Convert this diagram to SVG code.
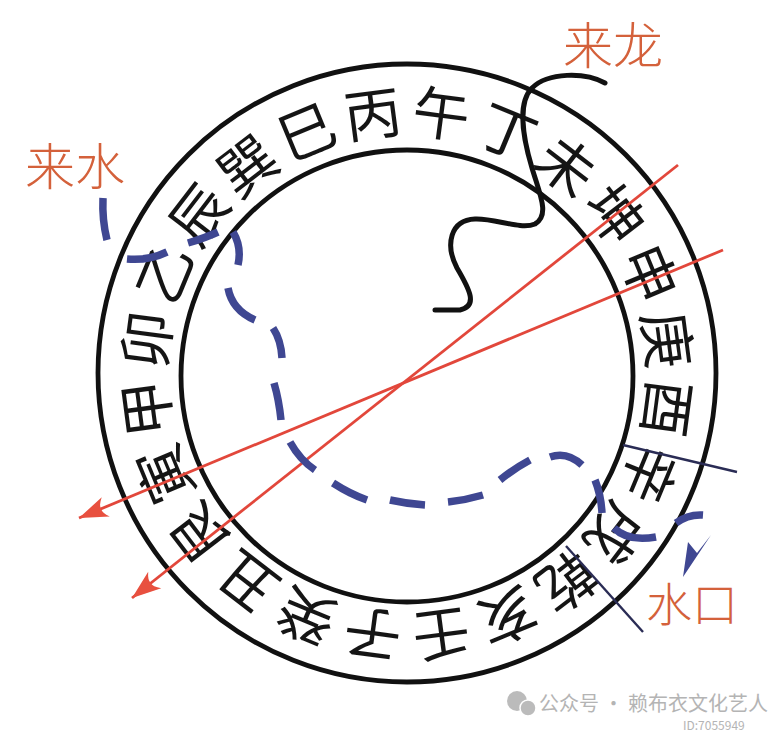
<svg xmlns="http://www.w3.org/2000/svg" width="781" height="736" viewBox="0 0 781 736">
<defs>
<style>
.ring{fill:none;stroke:#111;stroke-width:4.8}
.mt{font-family:"Noto Sans CJK SC","Noto Sans CJK JP",sans-serif;font-size:57px;fill:#151515;text-anchor:middle;dominant-baseline:central;font-weight:400}
.lbl{font-family:"Noto Sans CJK SC","Noto Sans CJK JP",sans-serif;font-size:50px;fill:#d4613b;font-weight:300}
.red{stroke:#e2473b;stroke-width:2.8;fill:none;marker-end:url(#ra)}
.sep{stroke:#2a2c55;stroke-width:2.4}
.dash{fill:none;stroke:#3f4792;stroke-width:7.5}
.wm{font-family:"Noto Sans CJK SC","Noto Sans CJK JP",sans-serif;fill:#a8a8a8}
</style>
<marker id="ra" markerUnits="userSpaceOnUse" markerWidth="34" markerHeight="24" viewBox="0 0 34 24" refX="32" refY="12" orient="auto">
<path d="M32,12 L3,1.5 Q9,8 8,12 Q9,16 3,22.5 Z" fill="#e8503f"/>
</marker>
</defs>
<rect width="781" height="736" fill="#fff"/>
<g id="ring">
<circle class="ring" cx="407" cy="373" r="309"/>
<circle class="ring" cx="407" cy="376" r="226"/>
</g>
<g id="mountains">
<text class="mt" transform="rotate(7.5 407 374)" x="407" y="108">午</text>
<text class="mt" transform="rotate(22.5 407 374)" x="407" y="108">丁</text>
<text class="mt" transform="rotate(37.5 407 374)" x="407" y="108">未</text>
<text class="mt" transform="rotate(52.5 407 374)" x="407" y="108">坤</text>
<text class="mt" transform="rotate(67.5 407 374)" x="407" y="108">申</text>
<text class="mt" transform="rotate(82.5 407 374)" x="407" y="108">庚</text>
<text class="mt" transform="rotate(97.5 407 374)" x="407" y="108">酉</text>
<text class="mt" transform="rotate(112.5 407 374)" x="407" y="108">辛</text>
<text class="mt" transform="rotate(127.5 407 374)" x="407" y="108">戌</text>
<text class="mt" transform="rotate(142.5 407 374)" x="407" y="108">乾</text>
<text class="mt" transform="rotate(157.5 407 374)" x="407" y="108">亥</text>
<text class="mt" transform="rotate(172.5 407 374)" x="407" y="108">壬</text>
<text class="mt" transform="rotate(187.5 407 374)" x="407" y="108">子</text>
<text class="mt" transform="rotate(202.5 407 374)" x="407" y="108">癸</text>
<text class="mt" transform="rotate(217.5 407 374)" x="407" y="108">丑</text>
<text class="mt" transform="rotate(232.5 407 374)" x="407" y="108">艮</text>
<text class="mt" transform="rotate(247.5 407 374)" x="407" y="108">寅</text>
<text class="mt" transform="rotate(262.5 407 374)" x="407" y="108">甲</text>
<text class="mt" transform="rotate(277.5 407 374)" x="407" y="108">卯</text>
<text class="mt" transform="rotate(292.5 407 374)" x="407" y="108">乙</text>
<text class="mt" transform="rotate(307.5 407 374)" x="407" y="108">辰</text>
<text class="mt" transform="rotate(322.5 407 374)" x="407" y="108">巽</text>
<text class="mt" transform="rotate(337.5 407 374)" x="407" y="108">巳</text>
<text class="mt" transform="rotate(352.5 407 374)" x="407" y="108">丙</text>
</g>
<g id="connectors">
<g id="separators">
<line class="sep" x1="623" y1="445" x2="737" y2="472"/>
<line class="sep" x1="566" y1="546" x2="643" y2="632"/>
</g>
<g id="red-lines">
<path class="red" d="M678,165 L132,598"/>
<path class="red" d="M723,250 L79,518"/>
</g>
<g id="laishui-dashes">
<path class="dash" d="M103,198 Q102,220 107,240"/>
<path class="dash" d="M127,259 Q148,261 167,252"/>
<path class="dash" d="M188,243 Q205,238 218,232"/>
<path class="dash" d="M233,232 Q242,247 238,265"/>
<path class="dash" d="M228,288 Q232,310 255,320"/>
<path class="dash" d="M273,328 Q281,340 282,358"/>
<path class="dash" d="M274,383 Q279,400 281,420"/>
<path class="dash" d="M290,442 Q300,460 315,470"/>
<path class="dash" d="M333,483 Q350,494 367,500"/>
<path class="dash" d="M390,500 Q408,504 425,505"/>
<path class="dash" d="M448,502 Q466,500 483,495"/>
<path class="dash" d="M500,480 Q515,468 530,460"/>
<path class="dash" d="M550,457 Q567,451 582,465"/>
<path class="dash" d="M595,480 Q601,495 602,513"/>
<path class="dash" d="M614,528 Q628,542 656,537"/>
<path class="dash" d="M676,523 Q688,514 703,515"/>
<polygon points="683,577 688,542 697,553 711,535" fill="#3f4792"/>
</g>
<path id="dragon" d="M605,83 C585,72 548,72 532,88 C518,102 522,135 532,168 C540,195 550,215 535,224 C520,230 495,218 475,219 C450,220 445,245 457,268 C470,290 478,306 460,310 L435,310" fill="none" stroke="#111" stroke-width="5" stroke-linecap="round"/>
</g>
<g id="labels">
<text class="lbl" x="25" y="185">来水</text>
<text class="lbl" x="563" y="64">来龙</text>
<text class="lbl" x="646" y="621" style="font-size:46px">水口</text>
</g>
<g id="watermark" opacity="0.85">
<circle cx="517" cy="701" r="10" fill="#b0b0b0"/>
<circle cx="528" cy="708" r="8" fill="#b0b0b0" stroke="#fff" stroke-width="1.5"/>
<text class="wm" x="539" y="711" font-size="20">公众号 · 赖布衣文化艺人</text>
<text class="wm" x="683" y="730" font-size="12">ID:7055949</text>
</g>
</svg>
